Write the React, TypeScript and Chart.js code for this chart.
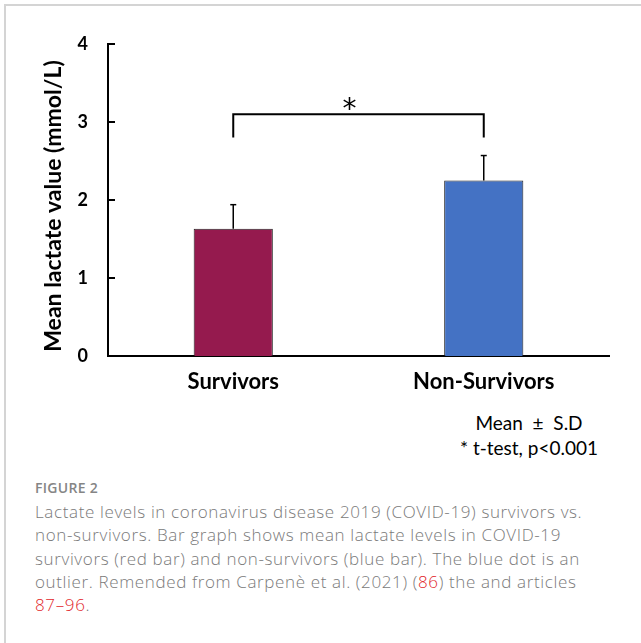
import React, { useEffect, useRef } from "react";
import { Chart, registerables } from "chart.js";

Chart.register(...registerables);

const categories = ["Survivors", "Non-Survivors"];
const means = [1.63, 2.25];
const sds = [0.31, 0.32];
const barColors = ["#951A4E", "#4472C4"];
const yTicks = [0, 1, 2, 3, 4];
const bracketTop = 3.1;
const bracketLegBottom = 2.8;
const yTitle = "Mean lactate value (mmol/L)";
const noteLines = ["Mean \u00A0\u00B1\u00A0 S.D", "* t-test, p<0.001"];
const figureLabel = "FIGURE 2";

const annotPlugin = {
  id: "annot",
  afterDatasetsDraw(chart: any) {
    const ctx = chart.ctx;
    const meta = chart.getDatasetMeta(0);
    const y = chart.scales.y;
    const x = chart.scales.x;
    const area = chart.chartArea;
    ctx.save();
    ctx.strokeStyle = "#000";
    ctx.lineCap = "butt";
    // error bars (upper half)
    meta.data.forEach((bar: any, i: number) => {
      const top = y.getPixelForValue(means[i] + sds[i]);
      ctx.lineWidth = 1.5;
      ctx.beginPath();
      ctx.moveTo(bar.x, bar.y);
      ctx.lineTo(bar.x, top);
      ctx.stroke();
      ctx.beginPath();
      ctx.moveTo(bar.x - 3, top);
      ctx.lineTo(bar.x + 3, top);
      ctx.stroke();
    });
    // significance bracket
    const x0 = x.getPixelForValue(0);
    const x1 = x.getPixelForValue(1);
    const yb = y.getPixelForValue(bracketTop);
    const yl = y.getPixelForValue(bracketLegBottom);
    ctx.lineWidth = 2;
    ctx.beginPath();
    ctx.moveTo(x0, yl);
    ctx.lineTo(x0, yb);
    ctx.lineTo(x1, yb);
    ctx.lineTo(x1, yl);
    ctx.stroke();
    // asterisk
    ctx.fillStyle = "#000";
    ctx.font = "28px 'DejaVu Sans'";
    ctx.textAlign = "center";
    ctx.textBaseline = "alphabetic";
    const m = ctx.measureText("*");
    const glyphCenterTarget = yb - 10;
    const baseline = glyphCenterTarget + (m.actualBoundingBoxAscent - m.actualBoundingBoxDescent) / 2;
    ctx.fillText("*", (x0 + x1) / 2 - 9, baseline);
    // inward tick marks on y axis
    ctx.lineWidth = 2;
    yTicks.forEach((v) => {
      const py = y.getPixelForValue(v);
      ctx.beginPath();
      ctx.moveTo(area.left, py);
      ctx.lineTo(area.left + 7, py);
      ctx.stroke();
    });
    // y axis title
    ctx.save();
    ctx.font = "bold 23px Lato";
    ctx.textAlign = "center";
    ctx.textBaseline = "middle";
    ctx.translate(54, (area.top + area.bottom) / 2 + 6);
    ctx.rotate(-Math.PI / 2);
    ctx.fillText(yTitle, 0, 0);
    ctx.restore();
    ctx.restore();
  },
};

export default function App() {
  const ref = useRef<HTMLCanvasElement>(null);

  useEffect(() => {
    if (!ref.current) return;
    const chart = new Chart(ref.current, {
      type: "bar",
      data: {
        labels: categories,
        datasets: [
          {
            data: means,
            backgroundColor: barColors,
            borderColor: "#222",
            borderWidth: 1,
            barPercentage: 0.316,
            categoryPercentage: 1,
          },
        ],
      },
      options: {
        responsive: false,
        animation: false,
        devicePixelRatio: 1,
        layout: { padding: { top: 44, right: 32, left: 0, bottom: 0 } },
        plugins: {
          legend: { display: false },
          tooltip: { enabled: false },
          title: { display: false },
        },
        scales: {
          x: {
            grid: { display: false, drawTicks: false },
            border: { display: true, color: "#000", width: 2 },
            ticks: {
              color: "#000",
              font: { family: "Lato", size: 22, weight: "bold" },
              padding: 13,
            },
            afterFit: (s: any) => {
              s.height = 54;
            },
          },
          y: {
            min: 0,
            max: 4,
            grid: { display: false, drawTicks: false },
            border: { display: true, color: "#000", width: 2 },
            ticks: {
              stepSize: 1,
              color: "#000",
              font: { family: "Lato", size: 18, weight: "bold" },
              padding: 20,
            },
            title: { display: false },
            afterFit: (s: any) => {
              s.width = 108;
            },
          },
        },
      },
      plugins: [annotPlugin],
    });
    return () => chart.destroy();
  }, []);

  const red = "#e2262b";

  return (
    <div
      style={{
        position: "absolute",
        left: 0,
        top: 0,
        width: 641,
        height: 643,
        background: "#fff",
        overflow: "hidden",
      }}
    >
      <div
        style={{
          position: "absolute",
          left: 4,
          top: 4,
          width: 700,
          height: 700,
          borderTop: "2px solid #d4d4d4",
          borderLeft: "2px solid #d4d4d4",
        }}
      />
      <canvas
        ref={ref}
        width={641}
        height={410}
        style={{ position: "absolute", left: 0, top: 0, width: 641, height: 410 }}
      />
      <div
        style={{
          position: "absolute",
          left: 429,
          top: 410,
          width: 200,
          textAlign: "center",
          fontFamily: "Lato",
          fontSize: 19,
          lineHeight: "25px",
          color: "#000",
          whiteSpace: "pre",
        }}
      >
        <div>{noteLines[0]}</div>
        <div>{noteLines[1]}</div>
      </div>
      <div
        style={{
          position: "absolute",
          left: 35,
          top: 479,
          fontFamily: "'Open Sans'",
          fontSize: 14,
          fontWeight: 600,
          color: "#858585",
          letterSpacing: 0.3,
          lineHeight: "18px",
        }}
      >
        {figureLabel}
      </div>
      <div
        style={{
          position: "absolute",
          left: 35,
          top: 500,
          fontFamily: "'Open Sans'",
          fontSize: 17,
          fontWeight: 300,
          letterSpacing: 0.63,
          color: "#7a7a7a",
          lineHeight: "23.3px",
          whiteSpace: "nowrap",
        }}
      >
        <div>Lactate levels in coronavirus disease 2019 (COVID-19) survivors vs.</div>
        <div>non-survivors. Bar graph shows mean lactate levels in COVID-19</div>
        <div>survivors (red bar) and non-survivors (blue bar). The blue dot is an</div>
        <div>
          outlier. Remended from Carpenè et al. (2021) (<span style={{ color: red }}>86</span>) the and articles
        </div>
        <div>
          <span style={{ color: red }}>87–96</span>.
        </div>
      </div>
    </div>
  );
}
